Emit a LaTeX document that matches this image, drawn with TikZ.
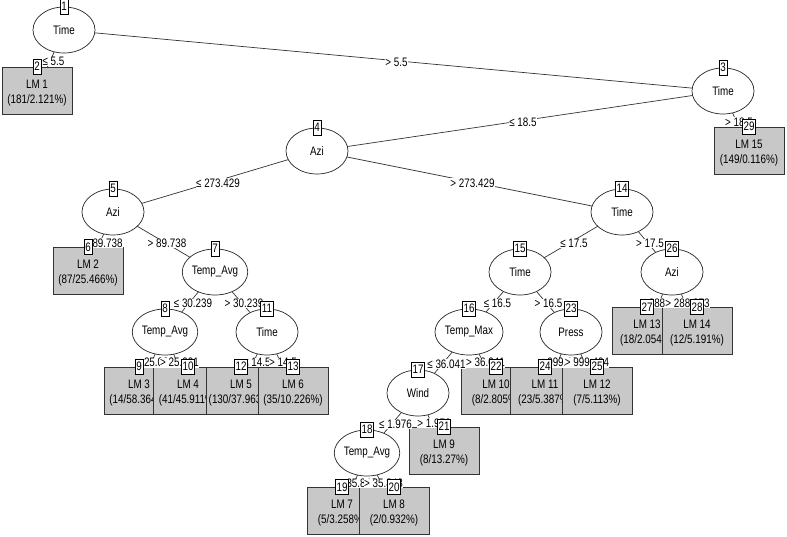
\documentclass[tikz,border=0pt]{standalone}
\usepackage{fontspec}
\setmainfont{Liberation Sans}[FakeStretch=0.8]
\usetikzlibrary{shapes.geometric,calc}
\pgfdeclarelayer{edges}
\pgfdeclarelayer{labs}
\pgfdeclarelayer{nums}
\pgfsetlayers{edges,main,labs,nums}
\definecolor{leafgray}{RGB}{200,200,200}
\newcommand{\lf}[2]{\rule{0pt}{13pt}#1\\#2}
\begin{document}
\begin{tikzpicture}[x=1pt,y=-1pt,
  every node/.style={font=\fontsize{12.3}{15}\selectfont},
  split/.style={draw=black!85, line width=0.7pt, ellipse, fill=white, minimum width=62pt, minimum height=46pt, inner sep=0pt},
  leaf/.style={draw=black!80, line width=0.7pt, fill=leafgray, minimum width=70pt, minimum height=47pt, inner sep=0pt, align=center},
  num/.style={draw=black, line width=0.6pt, fill=white, inner xsep=1.3pt, inner ysep=1pt, minimum height=15pt},
  lab/.style={fill=white, inner sep=0.4pt, xshift=3pt, yshift=-1.5pt},
  edge/.style={draw=black!80, line width=0.7pt}
]
\useasboundingbox (0,0) rectangle (787,537);

% nodes in pre-order
\node[split] (n1) at (64,30) {Time};
\node[leaf] (n2) at (37,90.5) {\lf{LM 1}{(181/2.121\%)}};
\node[split] (n3) at (723,91) {Time};
\node[split] (n4) at (317,151) {Azi};
\node[split] (n5) at (113,212) {Azi};
\node[leaf] (n6) at (88,271) {\lf{LM 2}{(87/25.466\%)}};
\node[split] (n7) at (215,272) {Temp\_Avg};
\node[split] (n8) at (165,332) {Temp\_Avg};
\node[leaf] (n9) at (139,390.5) {\lf{LM 3}{(14/58.364\%)}};
\node[leaf] (n10) at (188,390.5) {\lf{LM 4}{(41/45.911\%)}};
\node[split] (n11) at (267,332) {Time};
\node[leaf] (n12) at (241,390.5) {\lf{LM 5}{(130/37.963\%)}};
\node[leaf] (n13) at (293,390.5) {\lf{LM 6}{(35/10.226\%)}};
\node[split] (n14) at (622,212) {Time};
\node[split] (n15) at (520,272) {Time};
\node[split] (n16) at (469,332) {Temp\_Max};
\node[split] (n17) at (418,393) {Wind};
\node[split] (n18) at (367,453) {Temp\_Avg};
\node[leaf] (n19) at (342,511) {\lf{LM 7}{(5/3.258\%)}};
\node[leaf] (n20) at (394,511) {\lf{LM 8}{(2/0.932\%)}};
\node[leaf] (n21) at (444,450.5) {\lf{LM 9}{(8/13.27\%)}};
\node[leaf] (n22) at (496,390.5) {\lf{LM 10}{(8/2.805\%)}};
\node[split] (n23) at (571,332) {Press};
\node[leaf] (n24) at (545,390.5) {\lf{LM 11}{(23/5.387\%)}};
\node[leaf] (n25) at (597,390.5) {\lf{LM 12}{(7/5.113\%)}};
\node[split] (n26) at (672,272) {Azi};
\node[leaf] (n27) at (647,331) {\lf{LM 13}{(18/2.054\%)}};
\node[leaf] (n28) at (697,331) {\lf{LM 14}{(12/5.191\%)}};
\node[leaf] (n29) at (749,150.5) {\lf{LM 15}{(149/0.116\%)}};

% background and edges behind the nodes
\begin{pgfonlayer}{edges}
\fill[white] (0,0) rectangle (787,537);
\foreach \p/\c in {1/2,1/3,3/4,3/29,4/5,4/14,5/6,5/7,7/8,7/11,8/9,8/10,11/12,11/13,
  14/15,14/26,15/16,15/23,16/17,16/22,17/18,17/21,18/19,18/20,23/24,23/25,26/27,26/28}
  \draw[edge] (n\p.center) -- (n\c.center);
\end{pgfonlayer}

% edge labels
\begin{pgfonlayer}{labs}
\foreach \p/\c/\t in {1/2/{≤ 5.5},1/3/{> 5.5},3/4/{≤ 18.5},3/29/{> 18.5},
  4/5/{≤ 273.429},4/14/{> 273.429},5/6/{≤ 89.738},5/7/{> 89.738},
  7/8/{≤ 30.239},7/11/{> 30.239},8/9/{≤ 25.001},8/10/{> 25.001},
  11/12/{≤ 14.5},11/13/{> 14.5},14/15/{≤ 17.5},14/26/{> 17.5},
  15/16/{≤ 16.5},15/23/{> 16.5},16/17/{≤ 36.041},16/22/{> 36.041},
  17/18/{≤ 1.976},17/21/{> 1.976},18/19/{≤ 35.848},18/20/{> 35.848},
  23/24/{≤ 999.404},23/25/{> 999.404},26/27/{≤ 288.873},26/28/{> 288.873}}
  \path (n\p.center) -- (n\c.center) node[lab, midway] {\t};
\end{pgfonlayer}

% number boxes
\begin{pgfonlayer}{nums}
\foreach \i in {1,...,29}
  \node[num] (k\i) at (n\i.north) {\i};
\end{pgfonlayer}
\end{tikzpicture}
\end{document}
